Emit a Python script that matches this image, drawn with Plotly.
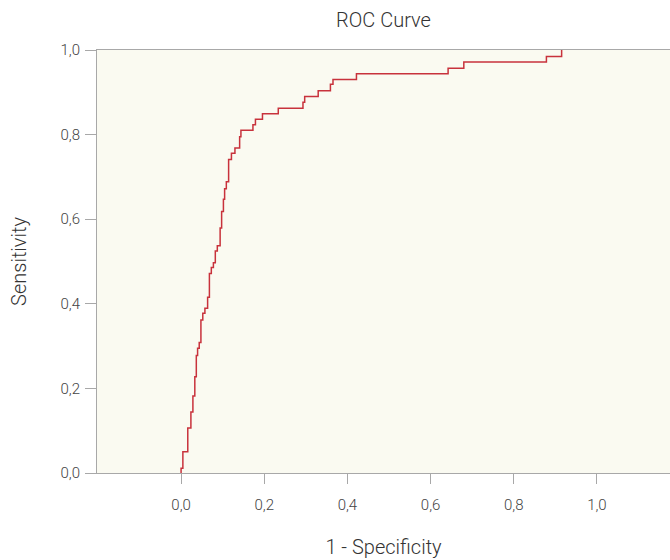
import plotly.graph_objects as go

# ROC curve points (1 - specificity, sensitivity), step curve
fpr = [0.0, 0.0, 0.0043, 0.0161, 0.0236, 0.0284, 0.0330, 0.0366, 0.0397, 0.0436,
       0.0477, 0.0522, 0.0573, 0.0638, 0.0681, 0.0727, 0.0777, 0.0823, 0.0871,
       0.0939, 0.0975, 0.1018, 0.1047, 0.1088, 0.1143, 0.1211, 0.1295, 0.1408,
       0.1439, 0.1728, 0.1788, 0.1957, 0.2337, 0.2931, 0.2972, 0.3297, 0.3591,
       0.3653, 0.4217, 0.6421, 0.6799, 0.8785, 0.9151]
tpr = [0.0, 0.0111, 0.0504, 0.1064, 0.1442, 0.1820, 0.2277, 0.2778, 0.2948, 0.3085,
       0.3617, 0.3775, 0.3894, 0.4154, 0.4716, 0.4858, 0.4972, 0.5248, 0.5374,
       0.5792, 0.6182, 0.6473, 0.6721, 0.6887, 0.7411, 0.7558, 0.7683, 0.7950,
       0.8102, 0.8234, 0.8364, 0.8492, 0.8622, 0.8764, 0.8901, 0.9038, 0.9189,
       0.9303, 0.9440, 0.9570, 0.9716, 0.9844, 1.0]

x_ticks = [0.0, 0.2, 0.4, 0.6, 0.8, 1.0]
y_ticks = [0.0, 0.2, 0.4, 0.6, 0.8, 1.0]

FONT = "Roboto, Arial, sans-serif"

fig = go.Figure()
fig.add_trace(go.Scatter(
    x=fpr, y=tpr, mode="lines", line=dict(color="#C8323C", width=1.5, shape="hv"),
    showlegend=False, hoverinfo="skip"))

fig.update_layout(
    width=670, height=560,
    margin=dict(l=97, r=0, t=50, b=87),
    paper_bgcolor="white", plot_bgcolor="#FAFAF1",
    separators=", ",
    font=dict(family=FONT, color="#444444", weight=300),
    title=dict(text="ROC Curve", x=0.5, xref="paper", y=1 - 20 / 560, yanchor="middle",
               font=dict(size=20, color="#333333", family=FONT, weight=300)),
    xaxis=dict(range=[-0.2022, 1.1757], tickvals=x_ticks, tickformat=".1f",
               showgrid=False, zeroline=False, showline=True, linecolor="#A8A8A8",
               linewidth=1, mirror=True, ticks="outside", ticklen=10, tickcolor="#A8A8A8",
               ticklabelstandoff=8, tickfont=dict(size=15, color="#444444", weight=300),
               title=dict(text="1 - Specificity",
                          font=dict(size=20, color="#333333", weight=300), standoff=26)),
    yaxis=dict(range=[0, 1], tickvals=y_ticks, tickformat=".1f",
               showgrid=False, zeroline=False, showline=True, linecolor="#A8A8A8",
               linewidth=1, mirror=False, ticks="outside", ticklen=11, tickcolor="#A8A8A8",
               ticklabelstandoff=2, tickfont=dict(size=15, color="#444444", weight=300),
               title=dict(text="Sensitivity",
                          font=dict(size=20, color="#333333", weight=300), standoff=28)),
)

fig.write_html("out.html", config={"displayModeBar": False},
               post_script="document.body.style.margin='0';document.body.style.overflow='hidden';")
